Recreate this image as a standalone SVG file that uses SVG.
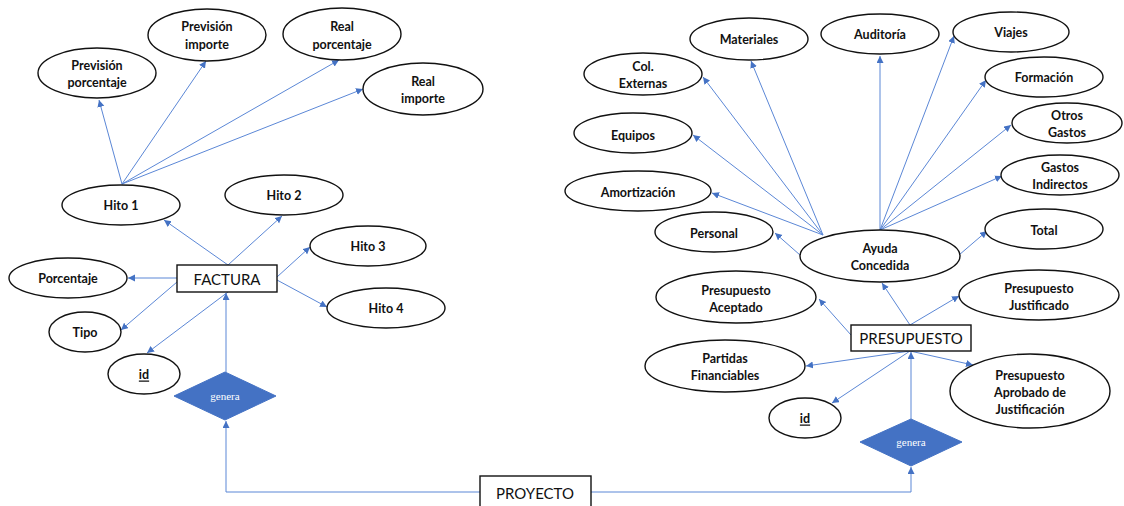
<svg xmlns="http://www.w3.org/2000/svg" width="1124" height="506" viewBox="0 0 1124 506">
  <style>
    .attr { fill: #ffffff; stroke: #111111; stroke-width: 1.4; }
    .ent { fill: #ffffff; stroke: #111111; stroke-width: 1.4; }
    .rel { fill: #4472C4; stroke: #4472C4; stroke-width: 1; }
    .lbl { font-family: Lato, "Liberation Sans", sans-serif; font-weight: bold; font-size: 12.5px; fill: #111111; text-anchor: middle; dominant-baseline: central; }
    .ename { font-family: Lato, "Liberation Sans", sans-serif; font-size: 15px; fill: #111111; text-anchor: middle; dominant-baseline: central; }
    .rname { font-family: "Liberation Serif", serif; font-size: 11px; fill: #ffffff; text-anchor: middle; dominant-baseline: central; }
    .key { text-decoration: underline; }
    .conn { fill: none; stroke: #5B87D6; stroke-width: 1; marker-end: url(#arrow); }
  </style>
  <defs>
    <marker id="arrow" markerUnits="userSpaceOnUse" markerWidth="8" markerHeight="8" refX="7" refY="3.5" orient="auto">
      <path d="M0,0 L7,3.5 L0,7 z" fill="#4472C4"/>
    </marker>
  </defs>

  <rect width="1124" height="506" fill="#ffffff"/>

  <!-- connectors -->
  <g id="connectors">
    <!-- Hito 1 attributes -->
    <line class="conn" x1="122" y1="184" x2="99" y2="100"/>
    <line class="conn" x1="122" y1="184" x2="206" y2="61"/>
    <line class="conn" x1="122" y1="184" x2="339" y2="60"/>
    <line class="conn" x1="122" y1="184" x2="363" y2="89"/>
    <!-- FACTURA attributes -->
    <line class="conn" x1="228" y1="265" x2="164" y2="220"/>
    <line class="conn" x1="228" y1="265" x2="282" y2="216"/>
    <line class="conn" x1="277" y1="277" x2="310" y2="247"/>
    <line class="conn" x1="277" y1="280" x2="327" y2="307"/>
    <line class="conn" x1="177" y1="278" x2="128" y2="278"/>
    <line class="conn" x1="177" y1="282" x2="121" y2="330"/>
    <line class="conn" x1="228" y1="292" x2="147" y2="353"/>
    <line class="conn" x1="226" y1="372" x2="226" y2="293"/>
    <!-- PROYECTO to left relation -->
    <polyline class="conn" points="480,492 226,492 226,421"/>
    <!-- Ayuda Concedida attributes -->
    <line class="conn" x1="880" y1="230" x2="880" y2="56"/>
    <line class="conn" x1="823" y1="235" x2="703" y2="77"/>
    <line class="conn" x1="823" y1="235" x2="751" y2="61"/>
    <line class="conn" x1="823" y1="235" x2="693" y2="135"/>
    <line class="conn" x1="823" y1="235" x2="712" y2="193"/>
    <line class="conn" x1="800" y1="255" x2="775" y2="233"/>
    <line class="conn" x1="880" y1="230" x2="954" y2="36"/>
    <line class="conn" x1="880" y1="230" x2="986" y2="80"/>
    <line class="conn" x1="880" y1="230" x2="1011" y2="125"/>
    <line class="conn" x1="880" y1="230" x2="1002" y2="176"/>
    <line class="conn" x1="959" y1="255" x2="987" y2="231"/>
    <!-- PRESUPUESTO attributes -->
    <line class="conn" x1="910" y1="325" x2="882" y2="283"/>
    <line class="conn" x1="910" y1="325" x2="959" y2="296"/>
    <line class="conn" x1="851" y1="335" x2="819" y2="299"/>
    <line class="conn" x1="910" y1="351" x2="806" y2="366"/>
    <line class="conn" x1="910" y1="351" x2="832" y2="403"/>
    <line class="conn" x1="910" y1="351" x2="973" y2="365"/>
    <line class="conn" x1="911" y1="419" x2="911" y2="352"/>
    <!-- PROYECTO to right relation -->
    <polyline class="conn" points="591,492 911,492 911,467"/>
  </g>

  <!-- FACTURA side -->
  <g id="prevision-porcentaje">
    <ellipse class="attr" cx="97" cy="73" rx="59" ry="25"/>
    <text class="lbl" x="97" y="65">Previsión</text>
    <text class="lbl" x="97" y="82">porcentaje</text>
  </g>
  <g id="prevision-importe">
    <ellipse class="attr" cx="207" cy="35" rx="59" ry="26"/>
    <text class="lbl" x="207" y="26">Previsión</text>
    <text class="lbl" x="207" y="44">importe</text>
  </g>
  <g id="real-porcentaje">
    <ellipse class="attr" cx="342" cy="34" rx="59" ry="26"/>
    <text class="lbl" x="342" y="26">Real</text>
    <text class="lbl" x="342" y="44">porcentaje</text>
  </g>
  <g id="real-importe">
    <ellipse class="attr" cx="423" cy="89" rx="60" ry="26"/>
    <text class="lbl" x="423" y="81">Real</text>
    <text class="lbl" x="423" y="98">importe</text>
  </g>
  <g id="hito-1">
    <ellipse class="attr" cx="121" cy="205" rx="59" ry="20"/>
    <text class="lbl" x="121" y="205">Hito 1</text>
  </g>
  <g id="hito-2">
    <ellipse class="attr" cx="284" cy="195" rx="59" ry="20"/>
    <text class="lbl" x="284" y="195">Hito 2</text>
  </g>
  <g id="hito-3">
    <ellipse class="attr" cx="368" cy="246" rx="58" ry="20"/>
    <text class="lbl" x="368" y="246">Hito 3</text>
  </g>
  <g id="hito-4">
    <ellipse class="attr" cx="386" cy="308" rx="59" ry="20"/>
    <text class="lbl" x="386" y="308">Hito 4</text>
  </g>
  <g id="porcentaje">
    <ellipse class="attr" cx="68" cy="278" rx="59" ry="20"/>
    <text class="lbl" x="68" y="278">Porcentaje</text>
  </g>
  <g id="tipo">
    <ellipse class="attr" cx="85" cy="332" rx="36" ry="20"/>
    <text class="lbl" x="85" y="332">Tipo</text>
  </g>
  <g id="factura-id">
    <ellipse class="attr" cx="144" cy="374" rx="36" ry="20"/>
    <text class="lbl key" x="144" y="374">id</text>
  </g>
  <g id="factura">
    <rect class="ent" x="177" y="265" width="100" height="27"/>
    <text class="ename" x="227" y="279">FACTURA</text>
  </g>
  <g id="genera-factura">
    <polygon class="rel" points="225,372 276,396 225,420 174,396"/>
    <text class="rname" x="225" y="396">genera</text>
  </g>

  <!-- PRESUPUESTO side -->
  <g id="materiales">
    <ellipse class="attr" cx="749" cy="39" rx="59" ry="21"/>
    <text class="lbl" x="749" y="39">Materiales</text>
  </g>
  <g id="auditoria">
    <ellipse class="attr" cx="880" cy="34" rx="59" ry="20"/>
    <text class="lbl" x="880" y="34">Auditoría</text>
  </g>
  <g id="viajes">
    <ellipse class="attr" cx="1011" cy="32" rx="58" ry="20"/>
    <text class="lbl" x="1011" y="32">Viajes</text>
  </g>
  <g id="col-externas">
    <ellipse class="attr" cx="643" cy="74" rx="59" ry="21"/>
    <text class="lbl" x="643" y="66">Col.</text>
    <text class="lbl" x="643" y="83">Externas</text>
  </g>
  <g id="formacion">
    <ellipse class="attr" cx="1044" cy="77" rx="59" ry="20"/>
    <text class="lbl" x="1044" y="77">Formación</text>
  </g>
  <g id="otros-gastos">
    <ellipse class="attr" cx="1067" cy="123" rx="55" ry="20"/>
    <text class="lbl" x="1067" y="115">Otros</text>
    <text class="lbl" x="1067" y="132">Gastos</text>
  </g>
  <g id="gastos-indirectos">
    <ellipse class="attr" cx="1060" cy="175" rx="59" ry="20"/>
    <text class="lbl" x="1060" y="167">Gastos</text>
    <text class="lbl" x="1060" y="184">Indirectos</text>
  </g>
  <g id="equipos">
    <ellipse class="attr" cx="633" cy="133" rx="59" ry="20"/>
    <text class="lbl" x="633" y="135">Equipos</text>
  </g>
  <g id="amortizacion">
    <ellipse class="attr" cx="638" cy="191" rx="73" ry="20"/>
    <text class="lbl" x="638" y="192">Amortización</text>
  </g>
  <g id="personal">
    <ellipse class="attr" cx="714" cy="232" rx="59" ry="20"/>
    <text class="lbl" x="714" y="233">Personal</text>
  </g>
  <g id="total">
    <ellipse class="attr" cx="1044" cy="229" rx="59" ry="20"/>
    <text class="lbl" x="1044" y="230">Total</text>
  </g>
  <g id="ayuda-concedida">
    <ellipse class="attr" cx="880" cy="256" rx="80" ry="26"/>
    <text class="lbl" x="880" y="248">Ayuda</text>
    <text class="lbl" x="880" y="265">Concedida</text>
  </g>
  <g id="presupuesto-aceptado">
    <ellipse class="attr" cx="736" cy="297" rx="80" ry="26"/>
    <text class="lbl" x="736" y="290">Presupuesto</text>
    <text class="lbl" x="736" y="307">Aceptado</text>
  </g>
  <g id="presupuesto-justificado">
    <ellipse class="attr" cx="1039" cy="295" rx="80" ry="25"/>
    <text class="lbl" x="1039" y="288">Presupuesto</text>
    <text class="lbl" x="1039" y="305">Justificado</text>
  </g>
  <g id="presupuesto">
    <rect class="ent" x="851" y="325" width="120" height="26"/>
    <text class="ename" x="911" y="338">PRESUPUESTO</text>
  </g>
  <g id="partidas-financiables">
    <ellipse class="attr" cx="725" cy="366" rx="80" ry="26"/>
    <text class="lbl" x="725" y="358">Partidas</text>
    <text class="lbl" x="725" y="375">Financiables</text>
  </g>
  <g id="presupuesto-aprobado">
    <ellipse class="attr" cx="1030" cy="391" rx="80" ry="37"/>
    <text class="lbl" x="1030" y="375">Presupuesto</text>
    <text class="lbl" x="1030" y="392">Aprobado de</text>
    <text class="lbl" x="1030" y="409">Justificación</text>
  </g>
  <g id="presupuesto-id">
    <ellipse class="attr" cx="805" cy="418" rx="36" ry="20"/>
    <text class="lbl key" x="805" y="418">id</text>
  </g>
  <g id="genera-presupuesto">
    <polygon class="rel" points="911,419 962,442 911,466 860,442"/>
    <text class="rname" x="911" y="442">genera</text>
  </g>

  <!-- PROYECTO -->
  <g id="proyecto">
    <rect class="ent" x="480" y="476" width="111" height="34"/>
    <text class="ename" x="535" y="493">PROYECTO</text>
  </g>
</svg>
